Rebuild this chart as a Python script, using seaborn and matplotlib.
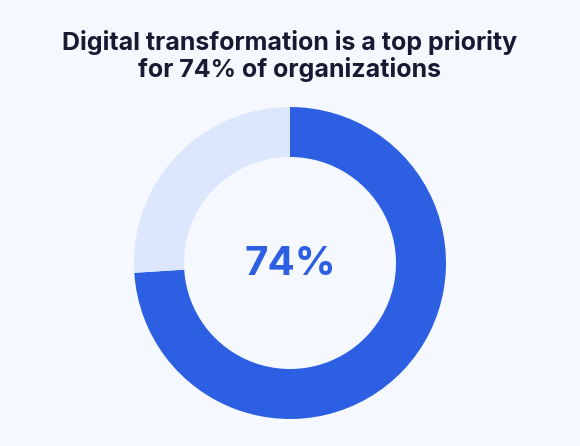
import matplotlib
matplotlib.use("Agg")
import matplotlib.pyplot as plt
import seaborn as sns

labels = ["Top priority", "Other"]
shares = [74, 26]
colors = ["#2d5fe3", "#dce7fd"]
title = "Digital transformation is a top priority\nfor 74% of organizations"
center_label = "74%"

bg = "#f5f9ff"
sns.set_theme(style="white")
plt.rcParams["font.family"] = ["Inter", "DejaVu Sans"]

fig = plt.figure(figsize=(5.8, 4.46), dpi=100, facecolor=bg)
# donut axes: centre at (290, 263) px, radius 156 px
ax = fig.add_axes([(290 - 156) / 580, (183 - 156) / 446, 312 / 580, 312 / 446])
ax.set_facecolor(bg)
ax.pie(shares, colors=colors, startangle=90, counterclock=False, radius=1,
       wedgeprops=dict(width=50 / 156, edgecolor="none"))
ax.set_xlim(-1, 1)
ax.set_ylim(-1, 1)
ax.set_aspect("equal")
ax.axis("off")

ax.text(0, -0.01, center_label, ha="center", va="center", fontsize=29,
        fontweight="bold", color="#2d5fe3")

fig.text(0.5, 1 - 56 / 446, title, ha="center", va="center", fontsize=18,
         fontweight="bold", color="#161b33", linespacing=1.12)

fig.savefig("out.png", dpi=100, facecolor=bg)
